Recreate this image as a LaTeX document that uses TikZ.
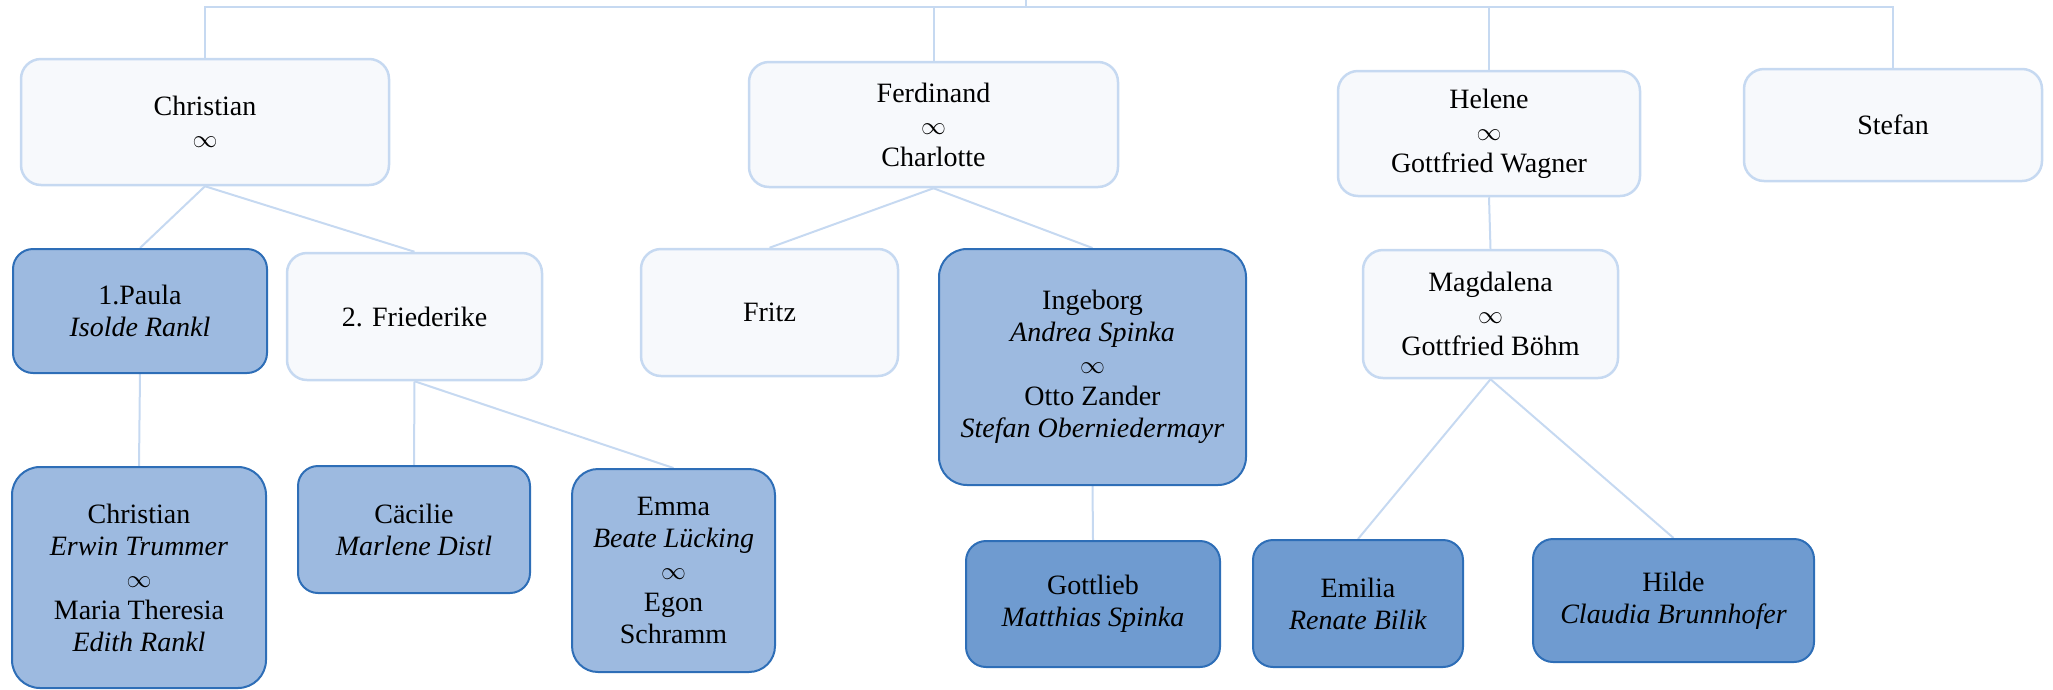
\documentclass[tikz,border=0pt]{standalone}
\usepackage{fontspec}
\setmainfont{Liberation Serif}
\usetikzlibrary{backgrounds}
\definecolor{lineblue}{HTML}{C6D9F1}
\definecolor{lightfill}{HTML}{F7F9FC}
\definecolor{medfill}{HTML}{9DBAE0}
\definecolor{darkfill}{HTML}{6F9BD0}
\definecolor{boxborder}{HTML}{2E6EB7}
\begin{document}
\begin{tikzpicture}[x=1pt,y=-1pt,
  box/.style={rounded corners=20pt, align=center, font=\fontsize{28}{32}\selectfont, inner sep=0pt},
  lightbox/.style={box, draw=lineblue, line width=2.5pt, fill=lightfill},
  medbox/.style={box, draw=boxborder, line width=2pt, fill=medfill},
  darkbox/.style={box, draw=boxborder, line width=2pt, fill=darkfill},
  link/.style={draw=lineblue, line width=2pt}]
\useasboundingbox (0,0) rectangle (2053,689);

% generation 1
\node[lightbox, minimum width=368pt, minimum height=126pt] (chr) at (205,122) {Christian\\$\infty$};
\node[lightbox, minimum width=369pt, minimum height=125pt] (fer) at (933.5,124.5) {Ferdinand\\$\infty$\\Charlotte};
\node[lightbox, minimum width=302pt, minimum height=125pt] (hel) at (1489,133.5) {Helene\\$\infty$\\Gottfried Wagner};
\node[lightbox, minimum width=298pt, minimum height=112pt] (ste) at (1893,125) {Stefan};

% generation 2
\node[medbox, minimum width=254pt, minimum height=124pt] (pau) at (140,311) {1.Paula\\\textit{Isolde Rankl}};
\node[lightbox, minimum width=255pt, minimum height=127pt] (fri) at (414.5,316.5) {2. Friederike};
\node[lightbox, minimum width=257pt, minimum height=127pt] (frz) at (769.5,312.5) {Fritz};
\node[medbox, rounded corners=28pt, minimum width=307pt, minimum height=236pt] (ing) at (1092.5,367) {Ingeborg\\\textit{Andrea Spinka}\\$\infty$\\Otto Zander\\\textit{Stefan Oberniedermayr}};
\node[lightbox, minimum width=255pt, minimum height=128pt] (mag) at (1490.5,314) {Magdalena\\$\infty$\\Gottfried Böhm};

% generation 3
\node[medbox, rounded corners=28pt, minimum width=254pt, minimum height=221pt] (chr2) at (139,577.5) {Christian\\\textit{Erwin Trummer}\\$\infty$\\Maria Theresia\\\textit{Edith Rankl}};
\node[medbox, minimum width=232pt, minimum height=127pt] (cae) at (414,529.5) {Cäcilie\\\textit{Marlene Distl}};
\node[medbox, rounded corners=26pt, minimum width=203pt, minimum height=203pt] (emm) at (673.5,570.5) {Emma\\\textit{Beate Lücking}\\$\infty$\\Egon\\Schramm};
\node[darkbox, minimum width=254pt, minimum height=126pt] (got) at (1093,604) {Gottlieb\\\textit{Matthias Spinka}};
\node[darkbox, minimum width=210pt, minimum height=127pt] (emi) at (1358,603.5) {Emilia\\\textit{Renate Bilik}};
\node[darkbox, minimum width=281pt, minimum height=123pt] (hil) at (1673.5,600.5) {Hilde\\\textit{Claudia Brunnhofer}};

\coordinate (top) at (1026,0);
\coordinate (bar) at (1026,7);

\begin{scope}[on background layer]
\draw[link] (chr.north) |- (ste.north |- bar) -- (ste.north);
\draw[link] (top) -- (bar);
\draw[link] (fer.north |- bar) -- (fer.north);
\draw[link] (hel.north |- bar) -- (hel.north);
\draw[link] (chr.south) -- (pau.north);
\draw[link] (chr.south) -- (fri.north);
\draw[link] (fer.south) -- (frz.north);
\draw[link] (fer.south) -- (ing.north);
\draw[link] (hel.south) -- (mag.north);
\draw[link] (pau.south) -- (chr2.north);
\draw[link] (fri.south) -- (cae.north);
\draw[link] (fri.south) -- (emm.north);
\draw[link] (ing.south) -- (got.north);
\draw[link] (mag.south) -- (emi.north);
\draw[link] (mag.south) -- (hil.north);
\end{scope}
\end{tikzpicture}
\end{document}
